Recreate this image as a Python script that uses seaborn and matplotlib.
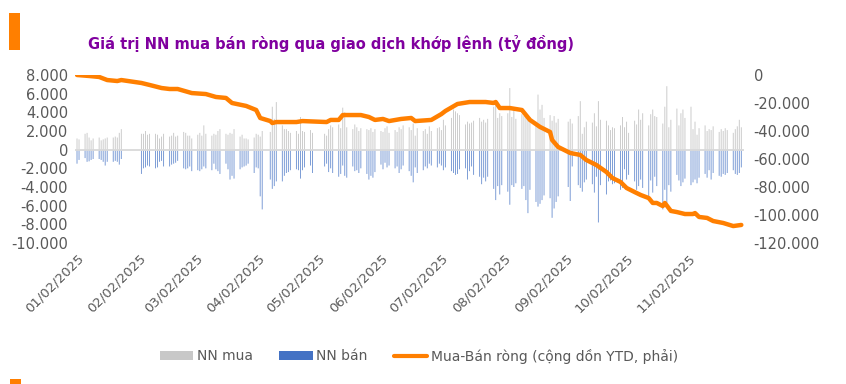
import numpy as np
import pandas as pd
import matplotlib
matplotlib.use("Agg")
import matplotlib.pyplot as plt
import seaborn as sns
from matplotlib.ticker import FuncFormatter
from matplotlib.patches import Patch, Rectangle
from matplotlib.lines import Line2D

# ---------------------------------------------------------------
# Data (tỷ đồng)
# ---------------------------------------------------------------
holidays = ["2025-01-01", "2025-01-27", "2025-01-28", "2025-01-29", "2025-01-30",
            "2025-01-31", "2025-04-07", "2025-04-30", "2025-05-01", "2025-05-02",
            "2025-09-01", "2025-09-02"]
trade_days = pd.bdate_range("2025-01-02", "2025-11-28", freq="C", holidays=holidays)

# NN mua (foreign buy) per session
buy = [
    # Jan
    1200, 1100, 1700, 1800, 1300, 1000, 1200, 1300, 1000, 1100, 1200, 1300, 1300, 1400, 1300, 1800, 2200,
    # Feb
    1700, 1700, 2000, 1600, 1700, 1700, 1600, 1200, 1400, 1700, 1400, 1500, 1800, 1400, 1500, 1900, 1800, 1500, 1500, 1200,
    # Mar
    1600, 1800, 1500, 2600, 1700, 1500, 1700, 1600, 2000, 2200, 1700, 1600, 1800, 1700, 2200, 1400, 1600, 1200, 1200, 1100, 1300,
    # Apr
    1700, 1600, 1400, 2000, 1900, 4600, 3300, 5100, 2600, 2200, 2200, 2000, 1800, 2000, 1700, 3500, 2000, 1900, 2100, 1800,
    # May
    1700, 1500, 2200, 2600, 2400, 2700, 2300, 4500, 4000, 2400, 2200, 2700, 2400, 2000, 2300, 2200, 2100, 2300, 1900, 2200,
    # Jun
    2000, 1900, 2300, 2500, 1800, 2100, 1900, 2400, 2200, 2600, 2400, 2100, 2800, 1500, 2300, 2000, 2200, 1700, 2500, 2000, 2300,
    # Jul
    2400, 2100, 3200, 2600, 3400, 4300, 4100, 3900, 3700, 2700, 3000, 2800, 2900, 3100, 3400, 3000, 3200, 2900, 3300, 4600,
    5000, 3400, 3900,
    # Aug
    3600, 3900, 6600, 3500, 4200, 3300, 3800, 3600, 3900, 3400, 3500, 3000, 5900, 4300, 4800, 3400, 3700, 3100, 3600, 2900, 3300,
    # Sep
    3000, 3300, 2800, 3600, 5200, 1700, 2400, 3000, 2900, 3900, 2500, 5200, 3200, 3100, 2600, 2100, 2400, 2300, 2600, 3500,
    # Oct
    2400, 3000, 1800, 3100, 2700, 4300, 3200, 3900, 2600, 3800, 4300, 3600, 3500, 2800, 4600, 6800, 2400, 3200, 4400, 2600,
    3900, 4300, 3400,
    # Nov
    4600, 2200, 3000, 1600, 2300, 2600, 2000, 2200, 2100, 2500, 1900, 2200, 2000, 2300, 2100, 1800, 2200, 2500, 3200, 2400,
]

# NN bán (foreign sell) per session
sell = [
    # Jan
    -1500, -1100, -900, -1300, -1250, -1100, -1000, -1000, -1100, -1300, -1700, -1300, -1300, -1200, -1300, -1600, -1000,
    # Feb
    -2600, -2000, -1900, -1700, -1800, -2000, -1900, -1300, -1200, -1800, -1800, -1600, -1500, -1400, -1200, -2000, -2100,
    -2000, -1800, -2300,
    # Mar
    -2200, -2300, -2100, -1800, -2000, -2200, -1500, -2100, -2300, -2600, -1500, -2100, -3200, -2800, -3100, -2100, -1900,
    -1800, -1700, -1500, -2500,
    # Apr
    -1900, -2000, -5000, -6400, -3200, -4200, -3900, -3400, -3400, -2800, -2500, -2400, -2200, -2100, -2200, -3100, -2200,
    -1900, -1700, -2500,
    # May
    -1800, -1500, -2400, -2000, -2500, -2900, -2600, -1700, -2800, -3000, -1800, -2300, -2200, -2500, -2000, -2600, -3200,
    -2800, -3000, -2400,
    # Jun
    -1600, -2100, -1400, -1900, -1700, -2000, -1800, -2500, -2100, -1700, -2300, -2800, -3500, -1900, -2500, -2200, -1800,
    -2000, -1500, -1700, -1900,
    # Jul
    -1500, -1700, -2200, -1900, -2300, -2500, -2700, -2600, -2100, -2000, -3200, -2300, -1800, -2700, -2900, -3700, -3000,
    -3400, -2900, -4200, -5400, -3900, -4800,
    # Aug
    -3800, -4500, -5900, -3800, -4000, -3600, -4200, -3900, -5400, -6800, -4300, -5600, -6100, -5800, -5400, -4900, -5200,
    -7300, -6300, -5600, -5000,
    # Sep
    -4000, -5500, -1800, -3800, -4100, -4500, -3500, -3200, -3700, -4600, -2900, -7800, -3800, -4800, -3400, -3300, -3700,
    -3600, -4300, -4100,
    # Oct
    -2100, -3200, -2700, -3400, -4300, -3900, -3200, -4100, -5000, -3300, -4600, -2900, -3900, -6400, -4300, -5700, -3800,
    -4500, -2700, -3300, -3900, -3500, -3100,
    # Nov
    -3800, -3500, -3200, -3600, -3000, -2600, -3000, -2200, -3200, -2500, -2800, -2900, -2600, -2700, -2500, -2200, -2600,
    -2700, -2500, -1900,
]

# Mua-Bán ròng, cumulative YTD (right axis)
line_dates = [
    "2025-01-02", "2025-01-08", "2025-01-13", "2025-01-17", "2025-01-22", "2025-01-24", "2025-02-03", "2025-02-07",
    "2025-02-13", "2025-02-17", "2025-02-21", "2025-02-28", "2025-03-07", "2025-03-12", "2025-03-17", "2025-03-20",
    "2025-03-27", "2025-04-01", "2025-04-03", "2025-04-08", "2025-04-09", "2025-04-11", "2025-04-21", "2025-04-24",
    "2025-05-06", "2025-05-08", "2025-05-12", "2025-05-14", "2025-05-23", "2025-05-27", "2025-05-30", "2025-06-03",
    "2025-06-06", "2025-06-12", "2025-06-17", "2025-06-19", "2025-06-27", "2025-07-02", "2025-07-04", "2025-07-10",
    "2025-07-16", "2025-07-24", "2025-07-28", "2025-07-29", "2025-07-31", "2025-08-05", "2025-08-11", "2025-08-15",
    "2025-08-20", "2025-08-25", "2025-08-26", "2025-08-29", "2025-09-04", "2025-09-09", "2025-09-12", "2025-09-17",
    "2025-09-22", "2025-09-25", "2025-09-29", "2025-10-02", "2025-10-06", "2025-10-09", "2025-10-13", "2025-10-15",
    "2025-10-17", "2025-10-20", "2025-10-21", "2025-10-24", "2025-10-27", "2025-10-31", "2025-11-04", "2025-11-05",
    "2025-11-07", "2025-11-11", "2025-11-14", "2025-11-19", "2025-11-24", "2025-11-28",
]
line_values = [
    0, -700, -1400, -3600, -4300, -3600, -5700, -7100,
    -9300, -10000, -10000, -12900, -13600, -15700, -16400, -20000,
    -22100, -25000, -30700, -32900, -34300, -33600, -33600, -32900,
    -33600, -32100, -32100, -28600, -28600, -30000, -32100, -31400,
    -32900, -31400, -30700, -32900, -32100, -27900, -25700, -20700,
    -19300, -19300, -20000, -19300, -23600, -23600, -25000, -32100,
    -37100, -40700, -46400, -51400, -55700, -57100, -60700, -64300,
    -69300, -73600, -76400, -80700, -83600, -85700, -87900, -91400,
    -91400, -93600, -91400, -97100, -97900, -99300, -99300, -98600,
    -101400, -102100, -104300, -105700, -107900, -107100,
]

tick_dates = ["2025-01-02", "2025-02-02", "2025-03-02", "2025-04-02", "2025-05-02", "2025-06-02",
              "2025-07-02", "2025-08-02", "2025-09-02", "2025-10-02", "2025-11-02"]
tick_labels = ["01/02/2025", "02/02/2025", "03/02/2025", "04/02/2025", "05/02/2025", "06/02/2025",
               "07/02/2025", "08/02/2025", "09/02/2025", "10/02/2025", "11/02/2025"]

title = "Giá trị NN mua bán ròng qua giao dịch khớp lệnh (tỷ đồng)"
legend_labels = ["NN mua", "NN bán", "Mua-Bán ròng (cộng dồn YTD, phải)"]

assert len(trade_days) == len(buy) == len(sell)

# ---------------------------------------------------------------
# Plot
# ---------------------------------------------------------------
sns.set_theme(style="white")
plt.rcParams["font.family"] = ["DejaVu Sans"]

GRAY_TXT = "#595959"
C_BUY = "#c8c8c8"
C_SELL = "#4472c4"
C_LINE = "#ff7f00"

fig = plt.figure(figsize=(8.46, 3.84), dpi=100)
ax = fig.add_axes([75 / 846, 1 - 243 / 384, (744 - 75) / 846, (243 - 75) / 384])

# thin daily bars (sub-pixel, no snapping -> antialiased lighter look like the source)
ax.bar(trade_days, buy, width=0.45, color=C_BUY, linewidth=0, snap=False)
ax.bar(trade_days, sell, width=0.45, color=C_SELL, alpha=0.75, linewidth=0, snap=False)
ax.axhline(0, color="#d9d9d9", linewidth=1.3, zorder=3)

ax.set_ylim(-10000, 8000)
ax.set_yticks(np.arange(-10000, 8001, 2000))
ax.set_xlim(pd.Timestamp("2025-01-01"), pd.Timestamp("2025-11-29 08:00"))
ax.set_xticks(pd.to_datetime(tick_dates))
ax.set_xticklabels(tick_labels, rotation=45, ha="right", rotation_mode="anchor")

thousands = FuncFormatter(lambda v, p: f"{int(round(v)):,}".replace(",", "."))
ax.yaxis.set_major_formatter(thousands)

ax2 = ax.twinx()
sns.lineplot(x=pd.to_datetime(line_dates), y=line_values, ax=ax2, color=C_LINE,
             linewidth=3.2, solid_capstyle="round", solid_joinstyle="round")
ax2.set_ylim(-120000, 0)
ax2.set_yticks(np.arange(-120000, 1, 20000))
ax2.yaxis.set_major_formatter(thousands)
ax2.set_ylabel("")

for a in (ax, ax2):
    sns.despine(ax=a, left=True, right=True, top=True, bottom=True)
    a.grid(False)
    a.tick_params(length=0, labelcolor=GRAY_TXT, labelsize=10.5)
ax.tick_params(axis="y", pad=5)
ax.tick_params(axis="x", pad=6, labelsize=9.5)
ax2.tick_params(axis="y", pad=7)

# title + decorations
fig.text(88 / 846, 1 - 44 / 384, title, color="#80009f", fontsize=10.5,
         fontweight="bold", va="center", ha="left")
fig.add_artist(Rectangle((9 / 846, 1 - 50 / 384), 11 / 846, 37 / 384,
                         transform=fig.transFigure, color=C_LINE, linewidth=0))
fig.add_artist(Rectangle((10 / 846, 0), 11 / 846, 5 / 384,
                         transform=fig.transFigure, color=C_LINE, linewidth=0))

handles = [Patch(facecolor=C_BUY, edgecolor="none"),
           Patch(facecolor=C_SELL, edgecolor="none"),
           Line2D([], [], color=C_LINE, linewidth=3)]
fig.legend(handles, legend_labels, loc="center", bbox_to_anchor=(419 / 846, 1 - 356 / 384),
           ncol=3, frameon=False, fontsize=10, labelcolor=GRAY_TXT, handlelength=2.4,
           handleheight=0.65, handletextpad=0.25, columnspacing=1.9)

fig.savefig("out.png", dpi=100)
